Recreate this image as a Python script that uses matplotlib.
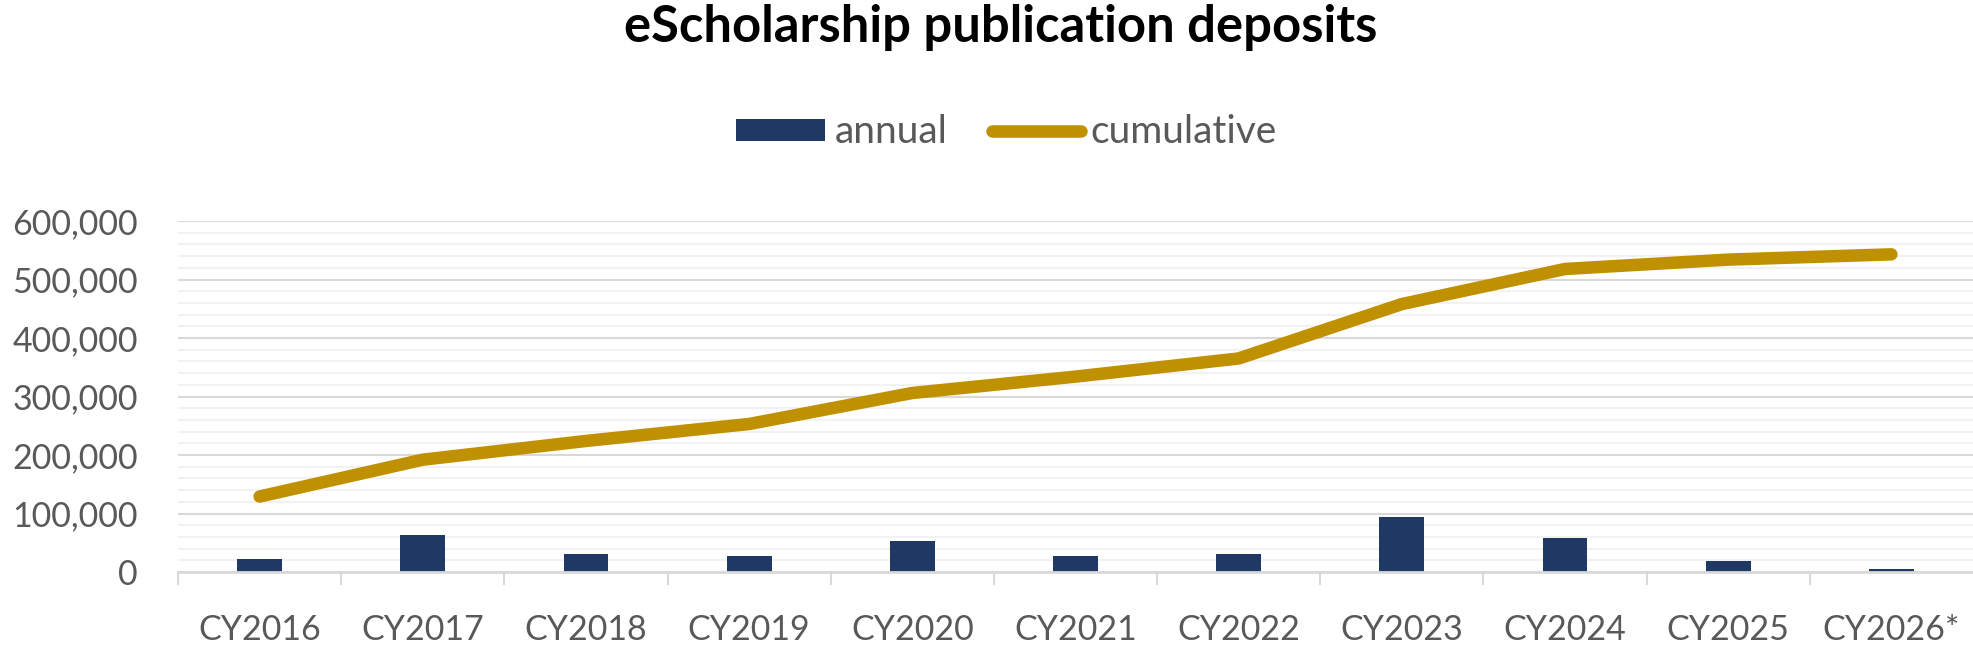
import numpy as np
import matplotlib
matplotlib.use("Agg")
import matplotlib.pyplot as plt
from matplotlib.ticker import MultipleLocator, FuncFormatter
from matplotlib.patches import Patch
from matplotlib.lines import Line2D

plt.rcParams['font.family'] = ['Lato', 'DejaVu Sans']

# data
years = ['CY2016', 'CY2017', 'CY2018', 'CY2019', 'CY2020', 'CY2021',
         'CY2022', 'CY2023', 'CY2024', 'CY2025', 'CY2026*']
annual = [22000, 63000, 31000, 27000, 53000, 27000, 31000, 94000, 58000, 19000, 5000]
cumulative = [129000, 192000, 224000, 253000, 306000, 334000, 365000, 458000, 518000, 534000, 543000]

barcol = '#203864'
linecol = '#BF9000'
txtcol = '#595959'

fig = plt.figure(figsize=(19.73, 6.49), dpi=100)
ax = fig.add_axes([178/1973, 1 - 572/649, 1 - 178/1973, (572 - 221)/649])

x = np.arange(len(years))
ax.bar(x, annual, width=0.275, color=barcol, zorder=3)
ax.plot(x, cumulative, color=linecol, linewidth=9, solid_capstyle='round',
        solid_joinstyle='round', zorder=4)

ax.set_xlim(-0.5, len(years) - 0.5)
ax.set_ylim(0, 600000)
ax.yaxis.set_major_locator(MultipleLocator(100000))
ax.yaxis.set_minor_locator(MultipleLocator(20000))
ax.yaxis.set_major_formatter(FuncFormatter(lambda v, p: '{:,.0f}'.format(v)))
ax.grid(which='minor', axis='y', color='#F2F2F2', linewidth=1.5, zorder=0)
ax.grid(which='major', axis='y', color='#D9D9D9', linewidth=1.5, zorder=1)

ax.set_xticks(x)
ax.set_xticklabels(years)
ax.set_xticks(np.arange(len(years)) - 0.5, minor=True)
ax.tick_params(axis='x', which='major', length=0, pad=30, labelsize=24.5, labelcolor=txtcol)
ax.tick_params(axis='x', which='minor', length=9.5, width=1.5, color='#D9D9D9')
ax.tick_params(axis='y', which='both', length=0, pad=29, labelsize=24.5, labelcolor=txtcol)

for s in ['top', 'right', 'left']:
    ax.spines[s].set_visible(False)
ax.spines['bottom'].set_color('#D9D9D9')
ax.spines['bottom'].set_linewidth(2)
ax.spines['bottom'].set_zorder(5)

fig.text(0.507, 0.957, 'eScholarship publication deposits', ha='center', va='center',
         fontsize=36.5, fontweight='bold', color='black')

handles = [Patch(facecolor=barcol, edgecolor='none'),
           Line2D([], [], color=linecol, linewidth=9, solid_capstyle='round')]
fig.legend(handles, ['annual', 'cumulative'], loc='center', bbox_to_anchor=(0.510, 0.796),
           ncol=2, frameon=False, fontsize=28, labelcolor=txtcol,
           handlelength=2.3, handleheight=0.5, handletextpad=0.24, columnspacing=1.14)

fig.savefig('out.png', dpi=100)
